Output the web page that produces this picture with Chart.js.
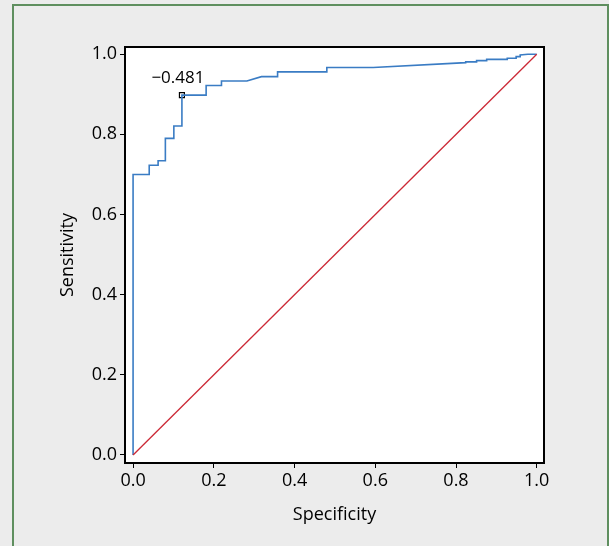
<!DOCTYPE html>
<html>
<head>
<meta charset="utf-8">
<script src="https://cdn.jsdelivr.net/npm/chart.js@4.4.0/dist/chart.umd.min.js"></script>
<style>
    html, body { margin: 0; padding: 0; background: #ececec; }
    #wrap { position: relative; width: 609px; height: 546px; }
    #frame {
        position: absolute; left: 12px; top: 4px; width: 593px; height: 560px;
        border: 2px solid #5f8f5f; pointer-events: none;
    }
</style>
</head>
<body>
<div id="wrap">
    <canvas id="roc" width="609" height="546"></canvas>
    <div id="frame"></div>
</div>
<script>
// ROC curve vertices (x = 1 - specificity, y = sensitivity)
const rocX = [0, 0, 0.040, 0.040, 0.062, 0.062, 0.080, 0.080, 0.101, 0.101, 0.121, 0.121,
              0.181, 0.181, 0.219, 0.219, 0.282, 0.318, 0.358, 0.358, 0.480, 0.480,
              0.595, 0.824, 0.824, 0.851, 0.851, 0.876, 0.876, 0.927, 0.927, 0.949, 0.949,
              0.959, 0.959, 0.978, 0.994, 1.0];
const rocY = [0, 0.700, 0.700, 0.723, 0.723, 0.734, 0.734, 0.790, 0.790, 0.821, 0.821, 0.898,
              0.898, 0.922, 0.922, 0.933, 0.933, 0.944, 0.944, 0.956, 0.956, 0.967,
              0.967, 0.979, 0.981, 0.981, 0.984, 0.984, 0.987, 0.987, 0.990, 0.990, 0.994,
              0.994, 0.998, 1.0, 1.0, 1.0];
const refX = [0, 1];
const refY = [0, 1];
// optimal cut-off point and its label
const cutX = 0.121;
const cutY = 0.898;
const cutLabel = '\u22120.481';
const tickValues = [0, 0.2, 0.4, 0.6, 0.8, 1.0];

const FONT = '"Open Sans", "Noto Sans", sans-serif';

function toPoints(xs, ys) {
    let pts = [];
    for (let k = 0; k < xs.length; k++) {
        pts.push({x: xs[k], y: ys[k]});
    }
    return pts;
}

// white plot area, black box around it, plus the cut-off label
const framePlugin = {
    id: 'framePlugin',
    beforeDatasetsDraw(chart) {
        const ctx = chart.ctx;
        const a = chart.chartArea;
        ctx.save();
        ctx.fillStyle = '#ffffff';
        ctx.fillRect(a.left, a.top, a.right - a.left, a.bottom - a.top);
        ctx.restore();
    },
    afterDatasetsDraw(chart) {
        const ctx = chart.ctx;
        const a = chart.chartArea;
        ctx.save();
        ctx.strokeStyle = '#000';
        ctx.lineWidth = 2;
        ctx.strokeRect(a.left, a.top, a.right - a.left, a.bottom - a.top);
        const px = chart.scales.x.getPixelForValue(cutX);
        const py = chart.scales.y.getPixelForValue(cutY);
        ctx.fillStyle = '#000';
        ctx.font = '17px ' + FONT;
        ctx.textAlign = 'center';
        ctx.textBaseline = 'middle';
        ctx.fillText(cutLabel, px - 4, py - 17);
        ctx.restore();
    }
};

const axisTicks = {
    color: '#000',
    font: {family: FONT, size: 18},
};

new Chart(document.getElementById('roc'), {
    type: 'scatter',
    data: {
        datasets: [
            {
                data: toPoints(refX, refY),
                showLine: true,
                borderColor: '#cc2936',
                borderWidth: 1.3,
                pointRadius: 0,
            },
            {
                data: toPoints(rocX, rocY),
                showLine: true,
                borderColor: '#3a7cc4',
                borderWidth: 1.6,
                pointRadius: 0,
            },
            {
                data: [{x: cutX, y: cutY}],
                showLine: false,
                pointStyle: 'rect',
                pointRadius: 3.5,
                borderColor: '#000',
                borderWidth: 1.2,
                backgroundColor: 'rgba(0,0,0,0)',
            },
        ]
    },
    options: {
        responsive: false,
        animation: false,
        events: [],
        layout: {padding: {left: 0, top: 47, right: 65, bottom: 0}},
        plugins: {legend: {display: false}, tooltip: {enabled: false}},
        scales: {
            x: {
                type: 'linear',
                min: -0.02,
                max: 1.018,
                afterBuildTicks: (scale) => { scale.ticks = tickValues.map(v => ({value: v})); },
                afterFit: (scale) => { scale.height = 83; },
                grid: {display: true, drawOnChartArea: false, drawTicks: true, tickLength: 5, color: '#000', lineWidth: 1},
                border: {display: false},
                ticks: Object.assign({padding: 2, callback: (v) => v.toFixed(1)}, axisTicks),
                title: {
                    display: true,
                    text: 'Specificity',
                    color: '#000',
                    font: {family: FONT, size: 18},
                    padding: {top: 0, bottom: 20},
                },
            },
            y: {
                type: 'linear',
                min: -0.02,
                max: 1.018,
                afterBuildTicks: (scale) => { scale.ticks = tickValues.map(v => ({value: v})); },
                afterFit: (scale) => { scale.width = 125; },
                grid: {display: true, drawOnChartArea: false, drawTicks: true, tickLength: 5, color: '#000', lineWidth: 1},
                border: {display: false},
                ticks: Object.assign({padding: 3, callback: (v) => v.toFixed(1)}, axisTicks),
                title: {
                    display: true,
                    text: 'Sensitivity',
                    color: '#000',
                    font: {family: FONT, size: 18},
                    padding: {top: 57, bottom: 0},
                },
            },
        }
    },
    plugins: [framePlugin]
});
</script>
</body>
</html>
